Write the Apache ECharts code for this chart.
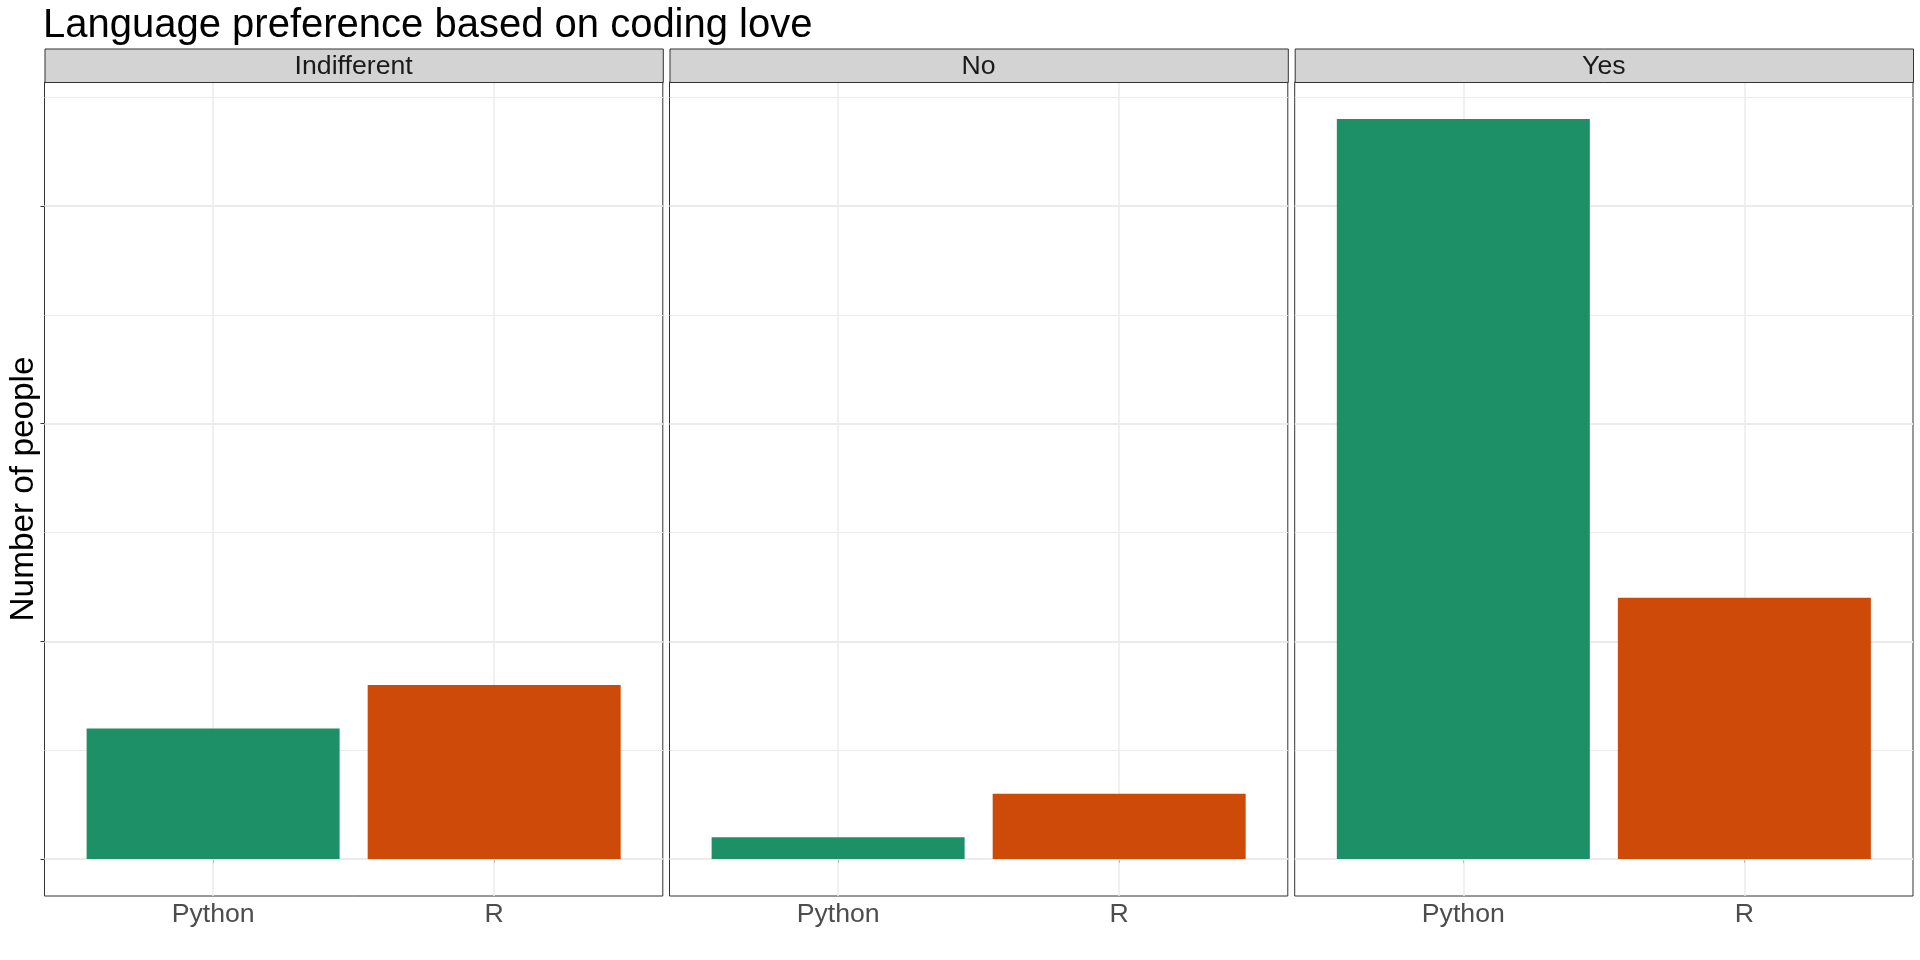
<!DOCTYPE html>
<html>
<head>
<meta charset="utf-8">
<script src="https://cdn.jsdelivr.net/npm/echarts@6/dist/echarts.min.js"></script>
<style>
html,body{margin:0;padding:0;background:#fff;}
#chart{width:1920px;height:960px;}
</style>
</head>
<body>
<div id="chart"></div>
<script>
// ---- data ----
const facets = ['Indifferent', 'No', 'Yes'];
const languages = ['Python', 'R'];
const pythonCounts = [6, 1, 34];
const rCounts = [8, 3, 12];
const yMajorTicks = [0, 10, 20, 30];
const yMinorTicks = [5, 15, 25, 35];
const xPositions = [1, 2];

// ---- styling / layout ----
const FONT = '"Liberation Sans", Arial, Helvetica, sans-serif';
const barColors = ['#1D9067', '#CE4A09'];
const panelLefts = [44.5, 669.5, 1294.7];
const panelWidth = 618.3;
const panelTop = 82;
const panelHeight = 814;
const stripTop = 48.5;
const stripHeight = 33.5;

const chart = echarts.init(document.getElementById('chart'), null, {renderer: 'canvas'});

const grids = [], xAxes = [], yAxes = [], series = [], graphics = [];

facets.forEach((f, i) => {
  grids.push({
    left: panelLefts[i], top: panelTop, width: panelWidth, height: panelHeight,
    show: true, borderColor: '#333333', borderWidth: 1, backgroundColor: '#ffffff',
    containLabel: false
  });
  xAxes.push({
    type: 'value', gridIndex: i, min: 0.4, max: 2.6,
    axisLine: {show: false},
    splitLine: {show: false},
    axisTick: {show: true, customValues: xPositions, length: 4, lineStyle: {color: '#333333', width: 1}},
    axisLabel: {
      show: true, customValues: xPositions, margin: 5,
      formatter: v => languages[Math.round(v) - 1] || '',
      color: '#4D4D4D', fontSize: 26.67, fontFamily: FONT
    }
  });
  yAxes.push({
    type: 'value', gridIndex: i, min: -1.7, max: 35.7,
    axisLine: {show: false},
    splitLine: {show: false},
    axisTick: {show: i === 0, customValues: yMajorTicks, length: 4, lineStyle: {color: '#333333', width: 1}},
    axisLabel: {show: false},
    name: i === 0 ? 'Number of people' : '',
    nameLocation: 'middle', nameRotate: 90, nameGap: 4,
    nameTextStyle: {color: '#000000', fontSize: 33.33, fontFamily: FONT}
  });
  // gridlines (behind the bars)
  const mlData = [];
  yMinorTicks.forEach(v => mlData.push({yAxis: v, lineStyle: {color: '#EBEBEB', width: 1, type: 'solid'}}));
  yMajorTicks.forEach(v => mlData.push({yAxis: v, lineStyle: {color: '#EBEBEB', width: 2, type: 'solid'}}));
  xPositions.forEach(v => mlData.push({xAxis: v, lineStyle: {color: '#EBEBEB', width: 1.5, type: 'solid'}}));
  series.push({
    type: 'line', xAxisIndex: i, yAxisIndex: i, data: [], z: 1, silent: true,
    markLine: {
      silent: true, symbol: ['none', 'none'], label: {show: false}, z: 1,
      animation: false, emphasis: {disabled: true},
      data: mlData
    }
  });
  series.push({
    type: 'bar', xAxisIndex: i, yAxisIndex: i, z: 10, barWidth: 253,
    silent: true,
    data: [
      {value: [xPositions[0], pythonCounts[i]], itemStyle: {color: barColors[0]}},
      {value: [xPositions[1], rCounts[i]], itemStyle: {color: barColors[1]}}
    ]
  });
  // facet strip
  graphics.push({
    type: 'rect', left: panelLefts[i], top: stripTop, z: 5,
    shape: {width: panelWidth, height: stripHeight},
    style: {fill: '#D3D3D3', stroke: '#333333', lineWidth: 1}
  });
  graphics.push({
    type: 'text', z: 6,
    x: panelLefts[i] + panelWidth / 2, y: stripTop + stripHeight / 2 + 1,
    style: {text: f, fill: '#1A1A1A', font: '26.67px ' + FONT, align: 'center', verticalAlign: 'middle'}
  });
});

chart.setOption({
  animation: false,
  backgroundColor: '#ffffff',
  title: {
    text: 'Language preference based on coding love',
    left: 43, top: 6, padding: 0,
    textStyle: {color: '#000000', fontSize: 40, fontWeight: 'normal', fontFamily: FONT}
  },
  grid: grids,
  xAxis: xAxes,
  yAxis: yAxes,
  series: series,
  graphic: graphics
});
</script>
</body>
</html>
